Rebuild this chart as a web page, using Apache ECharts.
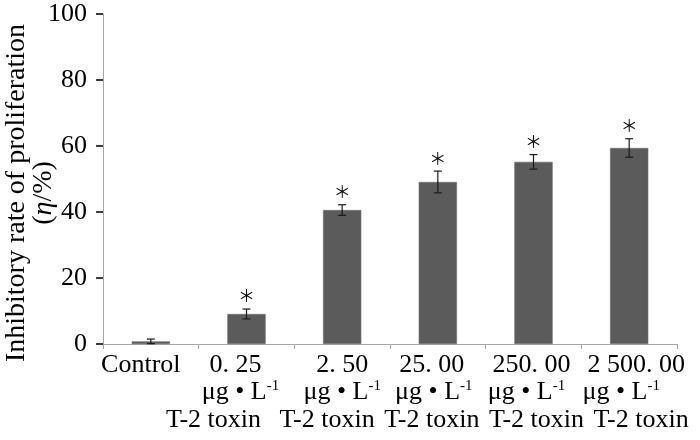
<!DOCTYPE html>
<html>
<head>
<meta charset="utf-8">
<script src="https://cdn.jsdelivr.net/npm/echarts@6/dist/echarts.min.js"></script>
<style>
  html, body { margin: 0; padding: 0; background: #fff; }
  #chart { width: 700px; height: 440px; }
</style>
</head>
<body>
<div id="chart"></div>
<script>
// doses of T-2 toxin (first label line), control has no unit lines
var doses = ['Control', '0. 25', '2. 50', '25. 00', '250. 00', '2 500. 00'];
var unitText = 'μg • L';
var unitSup = '-1';
var toxinText = 'T-2 toxin';

// inhibitory rate (%) and its error
var rates = [0.8, 9.1, 40.6, 49.1, 55.2, 59.4];
var errors = [0.7, 1.5, 1.6, 3.3, 2.2, 2.8];
var marks = ['', '＊', '＊', '＊', '＊', '＊'];

var yTicks = { min: 0, max: 100, interval: 20 };

// small horizontal nudges of the label lines, as in the printed figure
var shiftLine1 = [-10, -11, 0, -6, -2, 7];
var shiftLine2 = [0, -6, 0, -4, -7, -8];
var shiftLine3 = [0, -33, -15, -6, 3, 12];

var serif = '"Liberation Serif", "Times New Roman", serif';

function pad(d) {
	return d >= 0 ? [0, 0, 0, 2 * d] : [0, -2 * d, 0, 0];
}

var rich = {};
doses.forEach(function (d, i) {
	rich['n' + i] = { fontFamily: serif, fontSize: 26, lineHeight: 27, color: '#000', padding: pad(shiftLine1[i]) };
	rich['u' + i] = { fontFamily: serif, fontSize: 26, lineHeight: 27, color: '#000' };
	rich['s' + i] = { fontFamily: serif, fontSize: 15, lineHeight: 16, verticalAlign: 'top', color: '#000', padding: pad(shiftLine2[i]) };
	rich['t' + i] = { fontFamily: serif, fontSize: 26, lineHeight: 28, color: '#000', padding: pad(shiftLine3[i]) };
});

var chart = echarts.init(document.getElementById('chart'));

chart.setOption({
	animation: false,
	backgroundColor: '#fff',
	grid: { left: 103, right: 23, top: 14, bottom: 96, outerBoundsMode: 'none', containLabel: false },
	xAxis: {
		type: 'category',
		data: doses,
		axisLine: { lineStyle: { color: '#a6a6a6', width: 1 } },
		axisTick: { show: true, length: 5, lineStyle: { color: '#a6a6a6' } },
		axisLabel: {
			interval: 0,
			margin: 8,
			hideOverlap: false,
			formatter: function (value, idx) {
				if (idx === 0) { return '{n0|' + value + '}'; }
				return '{n' + idx + '|' + value + '}\n' +
					'{u' + idx + '|' + unitText + '}{s' + idx + '|' + unitSup + '}\n' +
					'{t' + idx + '|' + toxinText + '}';
			},
			rich: rich
		}
	},
	yAxis: {
		type: 'value',
		min: yTicks.min,
		max: yTicks.max,
		interval: yTicks.interval,
		splitLine: { show: false },
		axisLine: { show: true, lineStyle: { color: '#a6a6a6', width: 1 } },
		axisTick: { show: true, length: 7, lineStyle: { color: '#000', width: 1.5 } },
		axisLabel: { fontFamily: serif, fontSize: 26, color: '#000', margin: 16 },
		name: '{a|Inhibitory rate of proliferation}\n{a|(}{i|η}{a|/%)}',
		nameLocation: 'middle',
		nameGap: 46,
		nameMoveOverlap: false,
		nameTextStyle: {
			padding: [0, 28, 0, 0],
			rich: {
				a: { fontFamily: serif, fontSize: 28, lineHeight: 27, color: '#000' },
				i: { fontFamily: serif, fontSize: 28, lineHeight: 27, fontStyle: 'italic', color: '#000' }
			}
		}
	},
	series: [
		{
			type: 'bar',
			data: rates,
			barWidth: '40%',
			itemStyle: { color: '#5b5b5b', borderColor: '#6e6e6e', borderWidth: 0.6 }
		},
		{
			type: 'custom',
			data: rates.map(function (v, i) { return [i, v, errors[i]]; }),
			z: 5,
			renderItem: function (params, api) {
				var x = api.value(0);
				var top = api.coord([x, api.value(1) + api.value(2)]);
				var bot = api.coord([x, api.value(1) - api.value(2)]);
				var cap = 4;
				var style = { stroke: '#1a1a1a', lineWidth: 1.2 };
				var kids = [
					{ type: 'line', shape: { x1: top[0], y1: top[1], x2: bot[0], y2: bot[1] }, style: style },
					{ type: 'line', shape: { x1: top[0] - cap, y1: top[1], x2: top[0] + cap, y2: top[1] }, style: style },
					{ type: 'line', shape: { x1: bot[0] - cap, y1: bot[1], x2: bot[0] + cap, y2: bot[1] }, style: style }
				];
				var m = marks[params.dataIndex];
				if (m) {
					kids.push({
						type: 'text',
						style: {
							text: m, x: top[0], y: top[1] - 13,
							align: 'center', verticalAlign: 'middle',
							font: '17px "Noto Sans CJK SC", sans-serif', fill: '#111'
						}
					});
				}
				return { type: 'group', children: kids };
			}
		}
	]
});
</script>
</body>
</html>
